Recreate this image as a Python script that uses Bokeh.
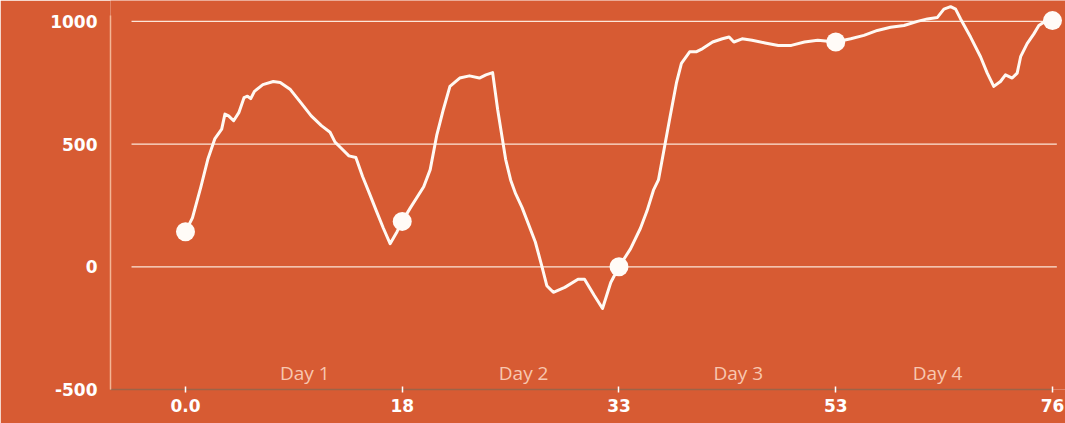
from bokeh.plotting import figure
from bokeh.models import Range1d, FixedTicker
from bokeh.core.properties import value
from bokeh.embed import file_html
from bokeh.resources import INLINE

# ---- data ----
tick_labels = ["0.0", "18", "33", "53", "76"]
day_labels = ["Day 1", "Day 2", "Day 3", "Day 4"]
day_pos = [0.55, 1.56, 2.55, 3.47]
y_ticks = [-500, 0, 500, 1000]
y_tick_labels = ["-500", "0", "500", "1000"]
grid_values = [0, 500, 1000]

line_x = [0, 0.032, 0.071, 0.103, 0.135, 0.167, 0.182, 0.199, 0.222, 0.246,
          0.270, 0.286, 0.301, 0.318, 0.357, 0.405, 0.437, 0.484, 0.532, 0.580,
          0.627, 0.667, 0.690, 0.714, 0.754, 0.786, 0.817, 0.849, 0.881, 0.913,
          0.944, 0.976, 1.0,
          1.038, 1.099, 1.129, 1.159, 1.190, 1.220, 1.265, 1.310, 1.356, 1.386,
          1.417, 1.440, 1.477, 1.500, 1.523, 1.553, 1.614, 1.644, 1.667, 1.697,
          1.750, 1.811, 1.841, 1.886, 1.924, 1.962, 2.0,
          2.053, 2.099, 2.129, 2.159, 2.182, 2.235, 2.265, 2.288, 2.326, 2.356,
          2.386, 2.432, 2.477, 2.508, 2.530, 2.568, 2.614, 2.674, 2.735, 2.795,
          2.856, 2.917, 3.0,
          3.069, 3.130, 3.192, 3.253, 3.315, 3.377, 3.423, 3.469, 3.499, 3.530,
          3.553, 3.576, 3.622, 3.668, 3.699, 3.729, 3.760, 3.783, 3.814, 3.837,
          3.853, 3.883, 3.914, 3.937, 3.960, 4.0]
line_y = [143, 199, 326, 438, 521, 561, 622, 615, 595, 628,
          689, 695, 685, 715, 742, 755, 751, 722, 669, 615,
          575, 548, 508, 487, 452, 445, 368, 298, 227, 157,
          94, 143, 185,
          241, 326, 396, 535, 642, 735, 769, 778, 769, 782,
          791, 642, 438, 354, 298, 241, 101, 3, -77, -104,
          -84, -51, -51, -117, -170, -64, 0,
          73, 157, 227, 312, 354, 608, 749, 829, 876, 876,
          889, 916, 929, 936, 916, 929, 923, 912, 902, 902,
          916, 923, 916,
          929, 943, 963, 976, 983, 1000, 1010, 1016, 1050, 1060,
          1050, 1010, 936, 856, 789, 735, 755, 782, 769, 789,
          856, 909, 949, 983, 996, 1003]
marker_x = [0, 1, 2, 3, 4]
marker_y = [143, 185, 0, 916, 1003]

# ---- style ----
BG = "#D75B33"
X_START, X_END = -0.346, 4.06
Y_START, Y_END = -500, 1085

p = figure(width=1065, height=423, output_backend="svg", toolbar_location=None,
           x_range=Range1d(X_START, X_END), y_range=Range1d(Y_START, Y_END),
           min_border_left=110, min_border_right=0, min_border_top=0,
           min_border_bottom=34)
p.background_fill_color = BG
p.border_fill_color = BG
p.outline_line_color = None
p.xgrid.visible = False
p.ygrid.visible = False

# grid lines
p.segment(x0=[-0.249] * len(grid_values), x1=[4.02] * len(grid_values),
          y0=grid_values, y1=grid_values, line_color="#FCE6D8", line_width=1.3)

# main line and markers
p.line(line_x, line_y, line_color="#FFF9F3", line_width=3, line_join="round")
p.scatter(marker_x, marker_y, size=19, fill_color="#FFFBF7", line_color=None)

# day labels
p.text(x=day_pos, y=[-432] * len(day_pos), text=day_labels,
       text_font=value("Open Sans"), text_font_size="19px",
       text_color="#F8C7B0", text_align="center", text_baseline="middle")

# x axis
xa = p.xaxis[0]
xa.ticker = FixedTicker(ticks=list(range(len(tick_labels))))
xa.major_label_overrides = {i: t for i, t in enumerate(tick_labels)}
xa.minor_tick_line_color = None
xa.major_tick_in = 3
xa.major_tick_out = 3
xa.major_tick_line_color = "#FFFFFF"
xa.major_tick_line_width = 1.5
xa.axis_line_color = "#9C6448"
xa.axis_line_width = 1.5
xa.bounds = (X_START, 4.0)
xa.major_label_standoff = 6
xa.major_label_text_font = "DejaVu Sans"
xa.major_label_text_font_style = "bold"
xa.major_label_text_font_size = "17px"
xa.major_label_text_color = "#FFFFFF"

# y axis
ya = p.yaxis[0]
ya.ticker = FixedTicker(ticks=y_ticks)
ya.major_label_overrides = {v: t for v, t in zip(y_ticks, y_tick_labels)}
ya.minor_tick_line_color = None
ya.major_tick_line_color = None
ya.major_tick_in = 0
ya.major_tick_out = 0
ya.axis_line_color = "#F3B595"
ya.axis_line_width = 1.5
ya.bounds = (-500, 1025)
ya.major_label_standoff = 13
ya.major_label_text_font = "DejaVu Sans"
ya.major_label_text_font_style = "bold"
ya.major_label_text_font_size = "17px"
ya.major_label_text_color = "#FFFFFF"

open("out.html", "w").write(file_html(p, INLINE))
